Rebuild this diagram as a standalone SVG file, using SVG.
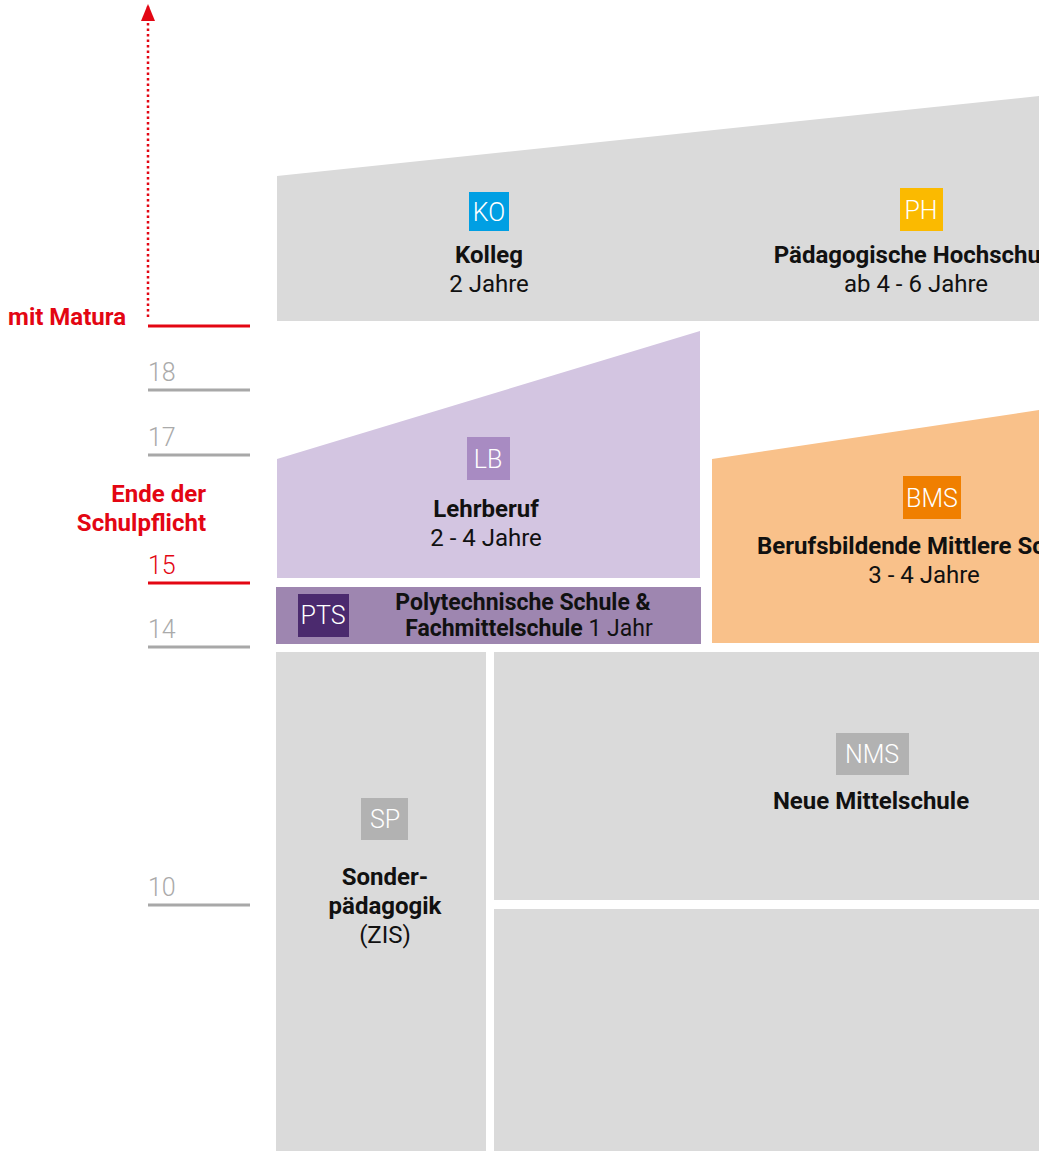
<svg xmlns="http://www.w3.org/2000/svg" width="1039" height="1151" viewBox="0 0 1039 1151">
<defs>
<marker id="ah" markerWidth="17" markerHeight="14" refX="16" refY="7" orient="auto" markerUnits="userSpaceOnUse" viewBox="0 0 17 14">
<path d="M0,0 L17,7 L0,14 Z" fill="#e30613"/>
</marker>
</defs>
<style>
text{font-family:Roboto,"Liberation Sans",sans-serif}
.b{font-weight:700;font-size:24px;fill:#111;text-anchor:middle}
.n{font-weight:400;font-size:24px;fill:#111;text-anchor:middle}
.bd{font-weight:300;font-size:25px;fill:#fff;text-anchor:middle}
.age{font-weight:300;font-size:25px;fill:#aaa}
.red{fill:#e30613;font-weight:700;font-size:24px;text-anchor:end}
.tick{stroke:#a8a8a8;stroke-width:3}
.rt{stroke:#e30613;stroke-width:3}
.gray{fill:#dadada}
</style>
<rect width="1039" height="1151" fill="#fff"/>

<g id="axis">
<text x="126" y="325" class="red">mit Matura</text>
<line x1="148" y1="326" x2="250" y2="326" class="rt"/>
<text x="148" y="381" class="age">18</text>
<line x1="148" y1="390" x2="250" y2="390" class="tick"/>
<text x="148" y="446" class="age">17</text>
<line x1="148" y1="455" x2="250" y2="455" class="tick"/>
<text x="206" y="502" class="red">Ende der</text>
<text x="206" y="531" class="red">Schulpflicht</text>
<text x="148" y="574" class="age" style="fill:#e30613">15</text>
<line x1="148" y1="583" x2="250" y2="583" class="rt"/>
<text x="148" y="638" class="age">14</text>
<line x1="148" y1="647" x2="250" y2="647" class="tick"/>
<text x="148" y="896" class="age">10</text>
<line x1="148" y1="905" x2="250" y2="905" class="tick"/>
</g>

<g id="connectors">
<line x1="148" y1="317" x2="148" y2="5" stroke="#e30613" stroke-width="2.5" stroke-dasharray="2.5,3" marker-end="url(#ah)"/>
</g>

<g id="top">
<polygon points="277,176 1039,96 1039,321 277,321" class="gray"/>
</g>
<g id="ko">
<rect x="469" y="192" width="40" height="39" fill="#009fe3"/>
<text x="489" y="221" class="bd">KO</text>
<text x="489" y="263" class="b">Kolleg</text>
<text x="489" y="292" class="n">2 Jahre</text>
</g>
<g id="ph">
<rect x="900" y="188" width="43" height="43" fill="#fbba00"/>
<text x="921" y="219" class="bd">PH</text>
<text x="917" y="263" class="b">Pädagogische Hochschule</text>
<text x="916" y="292" class="n">ab 4 - 6 Jahre</text>
</g>

<g id="lb">
<polygon points="277,459 700,331 700,578 277,578" fill="#d3c5e1"/>
<rect x="467" y="437" width="43" height="43" fill="#a88bc2"/>
<text x="488" y="468" class="bd">LB</text>
<text x="486" y="517" class="b">Lehrberuf</text>
<text x="486" y="546" class="n">2 - 4 Jahre</text>
</g>

<g id="pts">
<rect x="276" y="587" width="425" height="57" fill="#9e86b0"/>
<rect x="298" y="594" width="51" height="43" fill="#4b2a6e"/>
<text x="323" y="624" class="bd">PTS</text>
<text x="523" y="610" class="b" style="font-size:23px">Polytechnische Schule &amp;</text>
<text x="529" y="636" class="b" style="font-size:23px">Fachmittelschule <tspan style="font-weight:400">1 Jahr</tspan></text>
</g>

<g id="bms">
<polygon points="712,459 1039,410 1039,643 712,643" fill="#f9c18a"/>
<rect x="903" y="476" width="58" height="43" fill="#f07f00"/>
<text x="932" y="507" class="bd">BMS</text>
<text x="924" y="554" class="b">Berufsbildende Mittlere Schule</text>
<text x="924" y="583" class="n">3 - 4 Jahre</text>
</g>

<g id="sp">
<rect x="276" y="652" width="210" height="499" class="gray"/>
<rect x="361" y="798" width="47" height="42" fill="#b2b2b2"/>
<text x="385" y="828" class="bd">SP</text>
<text x="385" y="885" class="b">Sonder-</text>
<text x="385" y="914" class="b">pädagogik</text>
<text x="385" y="943" class="n">(ZIS)</text>
</g>

<g id="nms">
<rect x="494" y="652" width="545" height="248" class="gray"/>
<rect x="836" y="733" width="73" height="42" fill="#b2b2b2"/>
<text x="872" y="763" class="bd">NMS</text>
<text x="871" y="809" class="b">Neue Mittelschule</text>
</g>

<g id="bottom">
<rect x="494" y="909" width="545" height="242" class="gray"/>
</g>
</svg>
